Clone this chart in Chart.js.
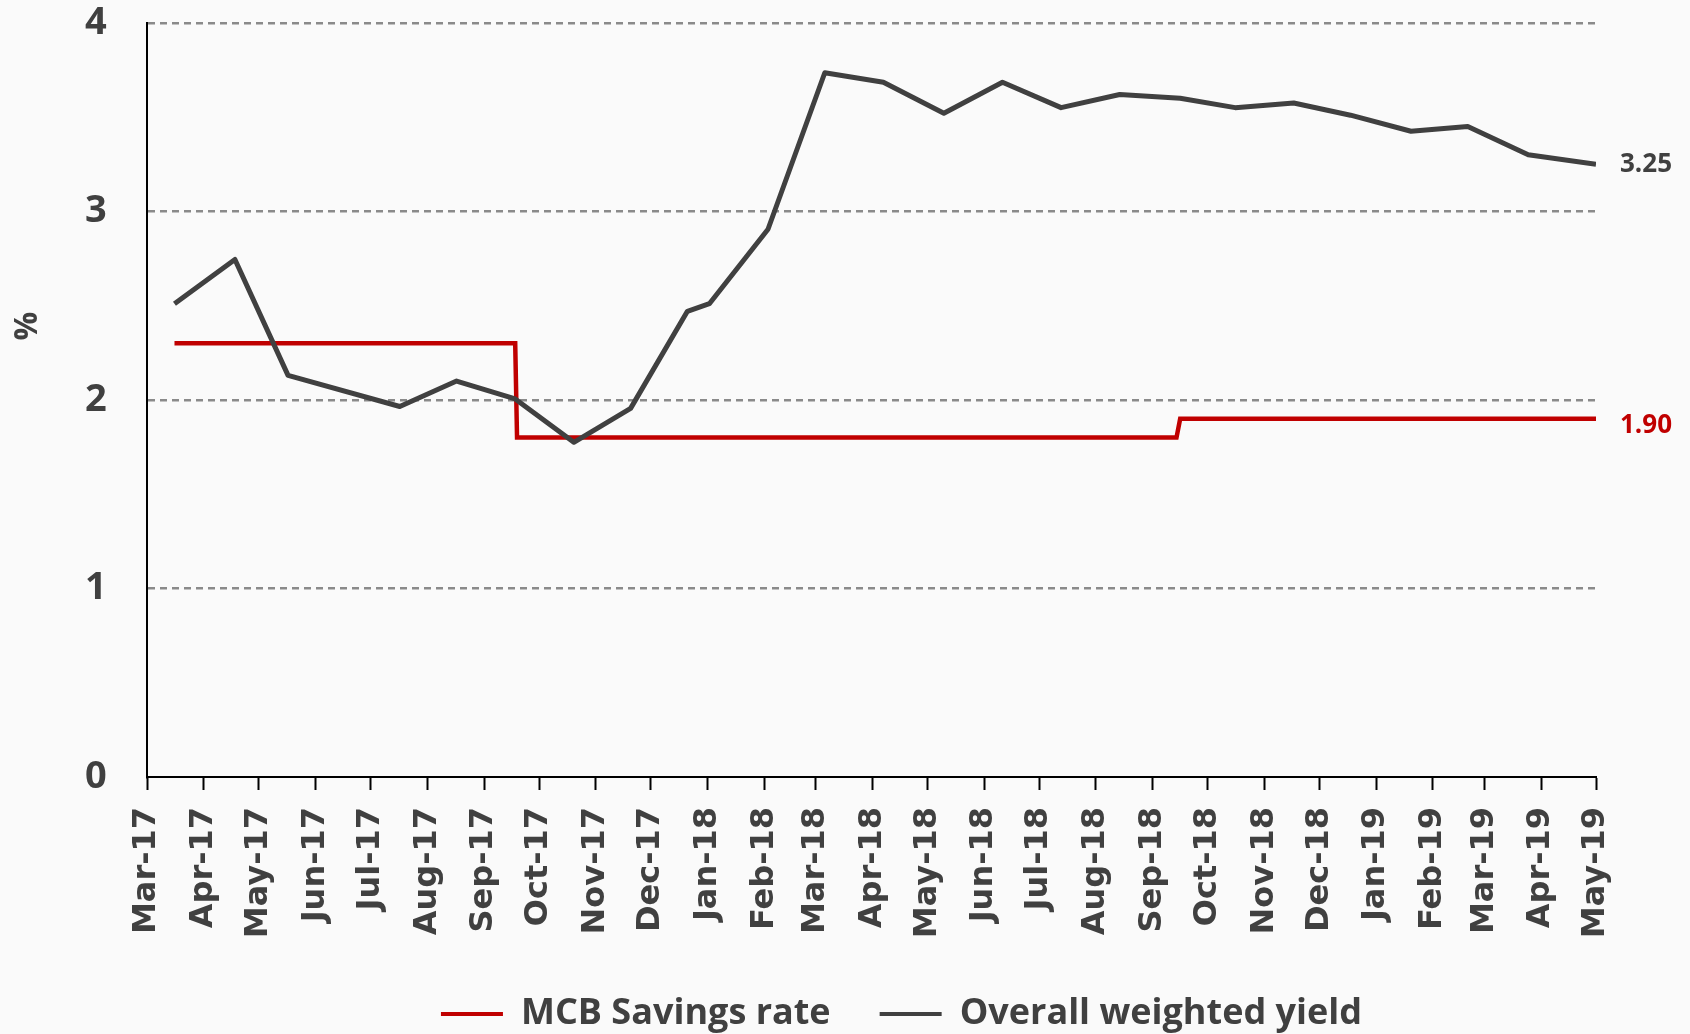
<!DOCTYPE html>
<html>
<head>
<meta charset="utf-8">
<script src="https://cdn.jsdelivr.net/npm/chart.js@4.4.1/dist/chart.umd.min.js"></script>
<style>
  html, body { margin: 0; padding: 0; background: #fafafa; }
</style>
</head>
<body>
<canvas id="chart" width="1690" height="1034"></canvas>
<script>
// month ticks on the x axis
const monthLabels = ['Mar-17', 'Apr-17', 'May-17', 'Jun-17', 'Jul-17', 'Aug-17', 'Sep-17', 'Oct-17',
    'Nov-17', 'Dec-17', 'Jan-18', 'Feb-18', 'Mar-18', 'Apr-18', 'May-18', 'Jun-18', 'Jul-18',
    'Aug-18', 'Sep-18', 'Oct-18', 'Nov-18', 'Dec-18', 'Jan-19', 'Feb-19', 'Mar-19', 'Apr-19', 'May-19'];

// MCB Savings rate (changes in steps)
const savingsDates = ['2017-03-16', '2017-09-18', '2017-09-19', '2018-09-14', '2018-09-16', '2019-05-01'];
const savingsRate = [2.30, 2.30, 1.80, 1.80, 1.90, 1.90];

// Overall weighted yield
const yieldDates = ['2017-03-16', '2017-04-18', '2017-05-17', '2017-07-17', '2017-08-17', '2017-09-18',
    '2017-10-20', '2017-11-20', '2017-12-21', '2018-01-02', '2018-02-03', '2018-03-06', '2018-04-07',
    '2018-05-10', '2018-06-11', '2018-07-13', '2018-08-14', '2018-09-16', '2018-10-16', '2018-11-17',
    '2018-12-18', '2019-01-20', '2019-02-20', '2019-03-25', '2019-05-01'];
const yieldValues = [2.51, 2.745, 2.13, 1.965, 2.10, 2.005, 1.775, 1.955, 2.47, 2.51, 2.905, 3.735, 3.685,
    3.52, 3.685, 3.55, 3.62, 3.60, 3.55, 3.575, 3.51, 3.425, 3.45, 3.30, 3.25];

const monthNames = ['Jan', 'Feb', 'Mar', 'Apr', 'May', 'Jun', 'Jul', 'Aug', 'Sep', 'Oct', 'Nov', 'Dec'];

function monthStart(label) {
    const parts = label.split('-');
    return Date.UTC(2000 + Number(parts[1]), monthNames.indexOf(parts[0]), 1);
}

function toPoints(dates, values) {
    return dates.map(function(d, i) {
        return { x: Date.parse(d), y: values[i] };
    });
}

const monthTicks = monthLabels.map(monthStart);
const textColor = '#404040';

// value written at the right end of each line
const endLabels = {
    id: 'endLabels',
    afterDatasetsDraw(chart) {
        const ctx = chart.ctx;
        chart.data.datasets.forEach(function(ds, i) {
            const meta = chart.getDatasetMeta(i);
            const last = meta.data[meta.data.length - 1];
            const value = ds.data[ds.data.length - 1].y;
            ctx.save();
            ctx.font = 'bold 26px "Open Sans"';
            ctx.fillStyle = ds.borderColor;
            ctx.textBaseline = 'middle';
            ctx.fillText(value.toFixed(2), last.x + 24, last.y + ds.labelShift);
            ctx.restore();
        });
    }
};

// "%" title, sits above the middle of the axis
const axisTitle = {
    id: 'axisTitle',
    afterDraw(chart) {
        const ctx = chart.ctx;
        ctx.save();
        ctx.translate(28, 326);
        ctx.rotate(-Math.PI / 2);
        ctx.font = 'bold 32px "Open Sans"';
        ctx.fillStyle = textColor;
        ctx.textAlign = 'center';
        ctx.textBaseline = 'middle';
        ctx.fillText('%', 0, 0);
        ctx.restore();
    }
};

// legend is a bit right of centre in the original
const legendShift = {
    id: 'legendShift',
    afterLayout(chart) {
        chart.legend.left += 61;
        chart.legend.right += 61;
    }
};

new Chart(document.getElementById('chart'), {
    type: 'line',
    data: {
        datasets: [
            {
                label: 'MCB Savings rate',
                data: toPoints(savingsDates, savingsRate),
                borderColor: '#C00000',
                backgroundColor: '#C00000',
                borderWidth: 4.5,
                pointRadius: 0,
                labelShift: 7,
                order: 1
            },
            {
                label: 'Overall weighted yield',
                data: toPoints(yieldDates, yieldValues),
                borderColor: textColor,
                backgroundColor: textColor,
                borderWidth: 5,
                borderJoinStyle: 'round',
                pointRadius: 0,
                labelShift: 0,
                order: 0
            }
        ]
    },
    options: {
        responsive: false,
        animation: false,
        layout: {
            padding: { left: 85, right: 94, top: 0, bottom: -8 }
        },
        scales: {
            x: {
                type: 'linear',
                min: monthTicks[0],
                max: monthTicks[monthTicks.length - 1],
                afterBuildTicks: function(axis) {
                    axis.ticks = monthTicks.map(v => ({ value: v }));
                },
                afterFit: function(axis) {
                    axis.height = 170;
                },
                ticks: {
                    autoSkip: false,
                    minRotation: 90,
                    maxRotation: 90,
                    padding: 17,
                    color: textColor,
                    font: { family: '"DejaVu Sans"', size: 32, weight: 'bold' },
                    callback: (value, i) => monthLabels[i]
                },
                grid: {
                    drawOnChartArea: false,
                    drawTicks: true,
                    tickLength: 13,
                    tickWidth: 2,
                    color: '#000'
                },
                border: { color: '#000', width: 2 }
            },
            y: {
                min: 0,
                max: 4,
                afterFit: function(axis) {
                    axis.width = 62;
                },
                ticks: {
                    stepSize: 1,
                    padding: 0,
                    crossAlign: 'far',
                    color: textColor,
                    font: { family: '"Open Sans"', size: 38, weight: 'bold' }
                },
                grid: {
                    drawTicks: false,
                    lineWidth: 2.5,
                    color: ctx => ctx.tick.value === 0 ? 'rgba(0,0,0,0)' : '#8a8a8a'
                },
                border: { color: '#000', width: 2, dash: [7, 5] }
            }
        },
        plugins: {
            legend: {
                position: 'bottom',
                labels: {
                    boxWidth: 62,
                    boxHeight: 4,
                    padding: 49,
                    color: textColor,
                    font: { family: '"Open Sans"', size: 36, weight: 'bold' },
                    generateLabels: function(chart) {
                        return chart.data.datasets.map(function(ds, i) {
                            return {
                                text: ds.label,
                                fillStyle: ds.borderColor,
                                strokeStyle: ds.borderColor,
                                lineWidth: 0,
                                fontColor: textColor,
                                datasetIndex: i
                            };
                        });
                    }
                }
            },
            tooltip: { enabled: false }
        }
    },
    plugins: [endLabels, axisTitle, legendShift]
});
</script>
</body>
</html>
